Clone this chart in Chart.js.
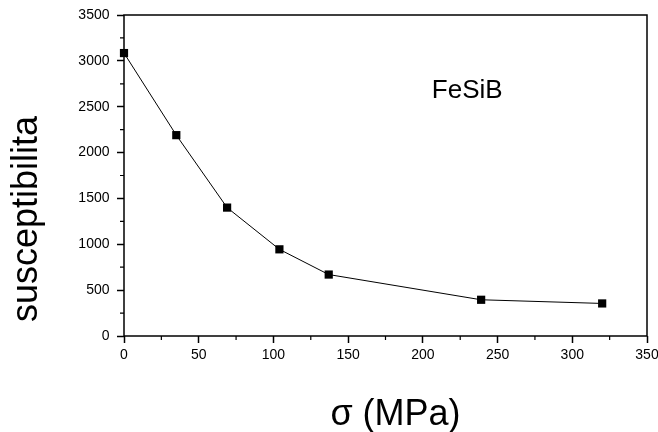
<!DOCTYPE html>
<html>
<head>
<meta charset="utf-8">
<script src="https://cdn.jsdelivr.net/npm/chart.js@4"></script>
<style>
  html, body { margin: 0; padding: 0; background: #fff; }
  #wrap { width: 658px; height: 432px; }
</style>
</head>
<body>
<div id="wrap"><canvas id="chart"></canvas></div>
<script>
// stress (MPa) vs susceptibility
const stress = [0, 35, 69, 104, 137, 239, 320];
const suscept = [3085, 2190, 1400, 945, 670, 395, 355];
const xTicks = [0, 50, 100, 150, 200, 250, 300, 350];
const yTicks = [0, 500, 1000, 1500, 2000, 2500, 3000, 3500];
const xLabel = 'σ (MPa)';
const yLabel = 'susceptibilita';
const sample = 'FeSiB';
const samplePos = [206, 2600];

const FONT = '"Liberation Sans", Arial, sans-serif';

//frame, minor ticks, titles and sample label
const decor = {
  id: 'decor',
  afterDraw(chart) {
    const {ctx, chartArea: {left, right, top, bottom}, scales: {x, y}} = chart;
    ctx.save();
    ctx.strokeStyle = '#000';
    ctx.lineWidth = 1.5;
    ctx.strokeRect(left, top, right - left, bottom - top);

    // minor ticks halfway between majors
    ctx.lineWidth = 1.2;
    ctx.beginPath();
    for (let i = 0; i < xTicks.length - 1; i++) {
      const px = x.getPixelForValue((xTicks[i] + xTicks[i + 1]) / 2);
      ctx.moveTo(px, bottom);
      ctx.lineTo(px, bottom + 4);
    }
    for (let i = 0; i < yTicks.length - 1; i++) {
      const py = y.getPixelForValue((yTicks[i] + yTicks[i + 1]) / 2);
      ctx.moveTo(left, py);
      ctx.lineTo(left - 4, py);
    }
    ctx.stroke();

    ctx.fillStyle = '#000';
    ctx.font = '26px ' + FONT;
    ctx.textAlign = 'left';
    ctx.textBaseline = 'alphabetic';
    ctx.fillText(sample, x.getPixelForValue(samplePos[0]), y.getPixelForValue(samplePos[1]));

    ctx.font = '36px ' + FONT;
    ctx.textAlign = 'center';
    ctx.fillText(xLabel, 395.5, 425);

    ctx.save();
    ctx.translate(36.5, 219);
    ctx.rotate(-Math.PI / 2);
    ctx.font = '36px ' + FONT;
    ctx.fillText(yLabel, 0, 0);
    ctx.restore();
    ctx.restore();
  }
};

const config = {
  type: 'line',
  data: {
    datasets: [{
      data: stress.map((v, i) => ({x: v, y: suscept[i]})),
      borderColor: '#000',
      borderWidth: 1,
      backgroundColor: '#000',
      pointStyle: 'rect',
      pointRadius: 5.8,
      pointBorderWidth: 0,
      pointBackgroundColor: '#000',
      tension: 0,
      clip: false
    }]
  },
  options: {
    responsive: true,
    maintainAspectRatio: false,
    animation: false,
    layout: {padding: {left: 0, right: 11, top: 15, bottom: 0}},
    plugins: {legend: {display: false}, tooltip: {enabled: false}},
    scales: {
      x: {
        type: 'linear',
        min: 0, max: 350,
        border: {display: false},
        grid: {drawOnChartArea: false, drawTicks: true, tickLength: 7, tickWidth: 1.5, tickColor: '#000'},
        ticks: {color: '#000', font: {family: FONT, size: 14}, padding: 4, maxRotation: 0, autoSkip: false,
          callback: v => String(v)},
        afterBuildTicks: s => { s.ticks = xTicks.map(v => ({value: v})); },
        afterFit: s => { s.height = 96; s.paddingLeft = 0; s.paddingRight = 0; }
      },
      y: {
        type: 'linear',
        min: 0, max: 3500,
        border: {display: false},
        grid: {drawOnChartArea: false, drawTicks: true, tickLength: 7, tickWidth: 1.5, tickColor: '#000'},
        ticks: {color: '#000', font: {family: FONT, size: 14}, padding: 7.5, autoSkip: false,
          callback: v => String(v)},
        afterBuildTicks: s => { s.ticks = yTicks.map(v => ({value: v})); },
        afterFit: s => { s.width = 124; s.paddingTop = 0; s.paddingBottom = 0; }
      }
    }
  },
  plugins: [decor]
};

const chart = new Chart(document.getElementById('chart'), config);
</script>
</body>
</html>
